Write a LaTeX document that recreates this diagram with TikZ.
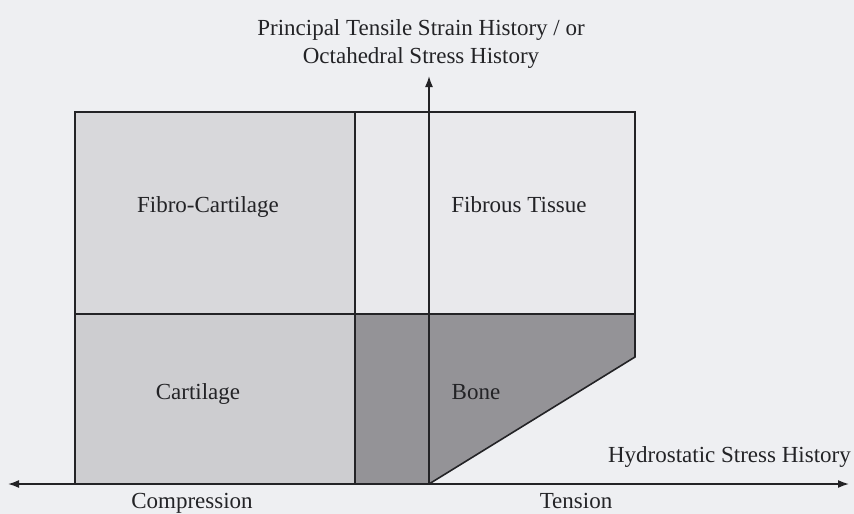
\documentclass[tikz,border=0pt]{standalone}
\usepackage{fontspec}
\setmainfont{Liberation Serif}
\usetikzlibrary{arrows.meta}
\definecolor{bgc}{RGB}{238,239,242}
\definecolor{fibrocart}{RGB}{216,216,219}
\definecolor{fibrous}{RGB}{233,233,236}
\definecolor{cart}{RGB}{205,205,208}
\definecolor{bonec}{RGB}{148,147,151}
\definecolor{ink}{RGB}{35,35,38}
\tikzset{
  lbl/.style={inner sep=0pt, anchor=base, text=ink, font=\fontsize{23}{28}\selectfont},
  edge/.style={draw=ink, line width=1.6pt, line join=miter},
  axis/.style={draw=ink, line width=1.6pt, -{Latex[length=11pt,width=8pt]}},
}
\begin{document}
\begin{tikzpicture}[x=1pt,y=-1pt]
  \fill[bgc] (0,0) rectangle (854,514);
  \useasboundingbox (0,0) rectangle (854,514);
  % regions
  \fill[fibrocart] (75,112) rectangle (355,314);
  \fill[fibrous] (355,112) rectangle (635,314);
  \fill[cart] (75,314) rectangle (355,484);
  \fill[bonec] (355,314) -- (635,314) -- (635,357) -- (429,484) -- (355,484) -- cycle;
  % outlines
  \draw[edge] (75,484) -- (75,112) -- (635,112) -- (635,357) -- (429,484);
  \draw[edge] (75,314) -- (635,314);
  \draw[edge] (355,112) -- (355,484);
  % axes
  \coordinate (O) at (429,484);
  \coordinate (Ytop) at (429,76);
  \coordinate (Xl) at (8,484);
  \coordinate (Xr) at (849,484);
  \draw[axis] (O) -- (Ytop);
  \draw[axis] (O) -- (Xl);
  \draw[axis] (O) -- (Xr);
  % labels
  \node[lbl] (t1) at (421,35) {Principal Tensile Strain History / or};
  \node[lbl] (t2) at (421,63) {Octahedral Stress History};
  \node[lbl] (fc) at (208,212) {Fibro-Cartilage};
  \node[lbl] (ft) at (519,212) {Fibrous Tissue};
  \node[lbl] (ca) at (198,399) {Cartilage};
  \node[lbl] (bo) at (476,399) {Bone};
  \node[lbl, anchor=base east] (hy) at (851,462) {Hydrostatic Stress History};
  \node[lbl] (co) at (192,508) {Compression};
  \node[lbl] (te) at (576,508) {Tension};
\end{tikzpicture}
\end{document}
